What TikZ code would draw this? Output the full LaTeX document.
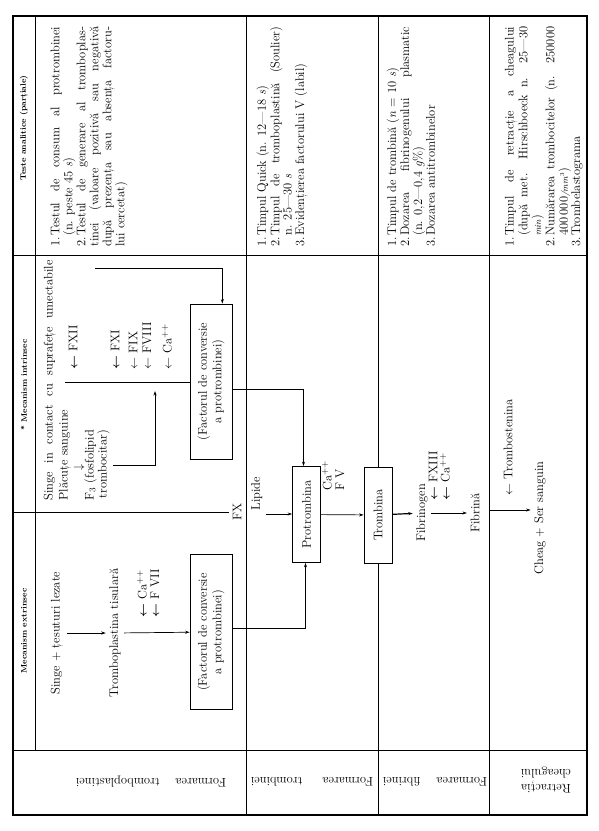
\documentclass[tikz,border=0pt]{standalone}
\usepackage{fontspec}
\usepackage{amsmath, amssymb}
\usepackage{bm}
\usepackage{tikz}
\usetikzlibrary{arrows.meta}

\newcommand{\spread}[2]{\makebox[#1][s]{#2}}
\newcommand{\nr}[1]{\par\noindent\hangindent=11pt\hangafter=1\makebox[11pt][l]{#1}}

\begin{document}
\begin{tikzpicture}[x=1pt, y=-1pt, line width=0.7pt,
    >={Stealth[length=4.5pt, width=3pt]},
    txt/.style={rotate=90, font=\fontsize{12.5}{13}\selectfont},
    hdr/.style={rotate=90, font=\fontsize{8}{9}\selectfont\bfseries},
    rowlbl/.style={rotate=180, font=\fontsize{12.5}{15}\selectfont},
    tst/.style={rotate=90, anchor=north west, text width=220pt, align=justify,
      inner sep=0pt, font=\fontsize{12.5}{12.4}\selectfont},
    box/.style={draw, rotate=90, minimum width=155pt, minimum height=42pt,
      inner sep=0pt, align=center, font=\fontsize{12.5}{14.5}\selectfont},
    box2/.style={draw, rotate=90, minimum width=96pt, minimum height=28pt,
      inner sep=0pt, font=\fontsize{12.5}{13}\selectfont}]

        \useasboundingbox (0,0) rectangle (598,831);

        % Headers
        \node[hdr] (h3) at (24,128) {Teste analitice (parțiale)};
        \node[hdr] (h2) at (24,385) {* Mecanism intrinsec};
        \node[hdr] (h1) at (24,631) {Mecanism extrinsec};

        % Row labels
        \node[rowlbl] (r1) at (151,782) {\spread{150pt}{Formarea tromboplastinei}};
        \node[rowlbl] (r2) at (312,782) {\spread{122pt}{Formarea trombinei}};
        \node[rowlbl] (r3) at (435,782) {\spread{104pt}{Formarea fibrinei}};
        \node[rowlbl, align=center] (r4) at (546,780) {Retracția\\cheagului};

        % Mecanism extrinsec
        \node[txt] (singe) at (57,633) {Singe + țesuturi lezate};
        \node[txt] (tpl) at (115,633) {Tromboplastina tisulară};
        \node[txt, anchor=west] (ca1) at (142,621) {$\bm{\leftarrow}$ Ca$^{++}$};
        \node[txt, anchor=west] (f7) at (155,621) {$\bm{\leftarrow}$ F VII};
        \node[box] (fext) at (211,632) {(Factorul de conversie\\a protrombinei)};

        % Mecanism intrinsec
        \node[txt, anchor=west] (sic) at (50,504) {\spread{240pt}{Singe in contact cu suprafețe umectabile}};
        \node[txt, anchor=west] (plac) at (65,504) {Plăcuțe sanguine};
        \node[txt] (darr) at (79,467) {$\downarrow$};
        \node[txt, anchor=west, align=right] (f3) at (97,504) {F$_3$ (fosfolipid\\trombocitar)};
        \node[txt, anchor=west] (fxii) at (73,373) {$\bm{\leftarrow}$ FXII};
        \node[txt, anchor=west] (fxi) at (115,373) {$\bm{\leftarrow}$ FXI};
        \node[txt, anchor=west] (fix) at (133,373) {$\leftarrow$ FIX};
        \node[txt, anchor=west] (fviii) at (147,373) {$\leftarrow$ FVIII};
        \node[txt, anchor=west] (ca2) at (167,373) {$\leftarrow$ Ca$^{++}$};
        \node[box] (fint) at (211,381.5) {(Factorul de conversie\\a protrombinei)};
        \coordinate (t0) at (65,382);
        \coordinate (t1) at (155,382);
        \coordinate (u0) at (95,268);

        % Trombina, fibrina, cheag
        \node[txt] (fx) at (237,512) {FX};
        \node[txt, anchor=south west] (lip) at (266,514) {Lipide};
        \node[box2] (protr) at (306.5,514.5) {Protrombina};
        \node[txt, anchor=west] (ca3) at (327,494) {Ca$^{++}$};
        \node[txt, anchor=west] (f5) at (340,494) {F V};
        \node[box2] (tromb) at (378,515) {Trombina};
        \node[txt] (fibg) at (422,513) {Fibrinogen};
        \node[txt, anchor=west] (fxiii) at (433,504) {$\bm{\leftarrow}$ FXIII};
        \node[txt, anchor=west] (ca4) at (445,504) {$\bm{\leftarrow}$ Ca$^{++}$};
        \node[txt] (fibr) at (475,513) {Fibrină};
        \coordinate (c0) at (489,510);
        \node[txt, anchor=west] (trst) at (508,499) {$\leftarrow$ Trombostenina};
        \node[txt] (cheag) at (540,518) {Cheag + Ser sanguin};

        % Teste analitice
        \node[tst, font=\fontsize{12.5}{13}\selectfont] (ta1) at (46,247) {%
          \nr{1.}Testul de consum al protrombinei\linebreak (n. peste 45 \textit{s})
          \nr{2.}Testul de generare al tromboplas-\linebreak tinei (valoare pozitivă sau negativă\linebreak după prezența sau absența factoru-\linebreak lui cercetat)};
        \node[tst] (ta2) at (253,247) {%
          \nr{1.}Timpul Quick (n. 12---18 \textit{s})
          \nr{2.}Timpul de tromboplastină (Soulier)\linebreak n. 25---30 \textit{s}
          \nr{3.}Evidențierea factorului V (labil)};
        \node[tst, font=\fontsize{12.5}{11.8}\selectfont] (ta3) at (384,247) {%
          \nr{1.}Timpul de trombină (\textit{n} = 10 \textit{s})
          \nr{2.}Dozarea fibrinogenului plasmatic\linebreak (n. 0,2---0,4 \textit{g}\%)
          \nr{3.}Dozarea antitrombinelor};
        \node[tst, font=\fontsize{12.5}{12.2}\selectfont] (ta4) at (501,247) {%
          \nr{1.}Timpul de retracție a cheagului\linebreak (după met. Hirschboeck n. 25---30\linebreak {\small\textit{min}})
          \nr{2.}Numărarea trombocitelor (n. 250000\linebreak 400\,000{\small\textit{/mm$^3$}})
          \nr{3.}Trombelastograma};

        % Table rules
        \draw[line width=1.1pt] (13,16) rectangle (587,815);
        \draw (35,16) -- (35,750);
        \draw (13,255) -- (587,255);
        \draw (13,750) -- (587,750);
        \draw (246,16) -- (246,815);
        \draw (378,16) -- (tromb.east);
        \draw (tromb.west) -- (378,815);
        \draw (489,16) -- (489,815);
        \draw (13,512) -- (fx.north);

        % Arrows
        \draw[->] (singe) -- (tpl);
        \draw[->] (tpl) -- (fext);
        \draw[->] ([yshift=4pt]fext.south) -| ([xshift=-1pt]protr.west);
        \draw (t0) -- (t0 -| fint.north);
        \draw[->, shorten >=9pt] (f3.south) -| (t1);
        \draw[->] (u0) -| ([xshift=-10pt]fint.south east);
        \draw[->] ([yshift=-8pt]fint.south) -| ([xshift=-3pt]protr.east);
        \draw[->] (lip.south west) -- (lip.south west -| protr.north);
        \draw[->] (protr) -- (tromb);
        \draw[->, line width=1.2pt] (tromb) -- (fibg);
        \draw[->] (fibg) -- (fibr);
        \draw[->] (c0) -- (c0 -| cheag.north);

      \end{tikzpicture}
\end{document}
